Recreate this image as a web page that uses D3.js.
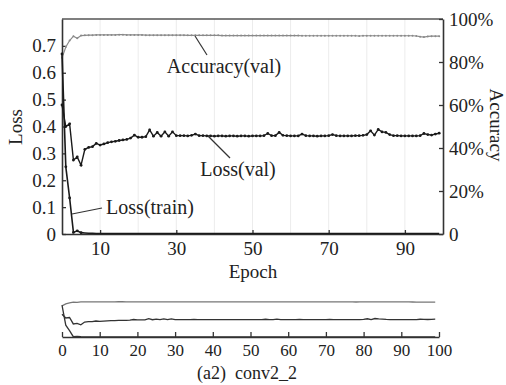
<!DOCTYPE html>
<html>
<head>
<meta charset="utf-8">
<script src="https://cdn.jsdelivr.net/npm/d3@7"></script>
<style>
  body { margin: 0; background: #fff; }
  svg text { font-family: "Liberation Serif", "DejaVu Serif", serif !important; fill: #222; }
</style>
</head>
<body>
<svg id="chart" width="506" height="385"></svg>
<script>
// epochs 0..99, values
const lossVal = [
  0.48, 0.40, 0.41, 0.275, 0.287, 0.256, 0.315, 0.322, 0.325, 0.337,
  0.331, 0.335, 0.34, 0.343, 0.345, 0.348, 0.35, 0.352, 0.357, 0.368,
  0.36, 0.36, 0.362, 0.387, 0.364, 0.378, 0.364, 0.38, 0.364, 0.38,
  0.366, 0.366, 0.366, 0.365, 0.367, 0.372, 0.366, 0.366, 0.365, 0.365,
  0.364, 0.365, 0.365, 0.364, 0.365, 0.365, 0.364, 0.365, 0.365, 0.364,
  0.365, 0.365, 0.365, 0.366, 0.374, 0.366, 0.366, 0.378, 0.367, 0.366,
  0.365, 0.365, 0.365, 0.372, 0.366, 0.365, 0.365, 0.364, 0.365, 0.365,
  0.366, 0.37, 0.366, 0.365, 0.365, 0.365, 0.365, 0.366, 0.366, 0.367,
  0.37, 0.384, 0.368, 0.389, 0.38, 0.378, 0.37, 0.366, 0.366, 0.365,
  0.365, 0.365, 0.365, 0.365, 0.366, 0.374, 0.37, 0.368, 0.372, 0.375
];
const lossTrain = [
  0.67, 0.25, 0.134, 0.006, 0.012, 0.005, 0.004, 0.003, 0.003, 0.002,
  0.002, 0.002, 0.002, 0.002, 0.002, 0.002, 0.002, 0.002, 0.002, 0.002,
  0.002, 0.002, 0.002, 0.002, 0.002, 0.002, 0.002, 0.002, 0.002, 0.002,
  0.002, 0.002, 0.002, 0.002, 0.002, 0.002, 0.002, 0.002, 0.002, 0.002,
  0.002, 0.002, 0.002, 0.002, 0.002, 0.002, 0.002, 0.002, 0.002, 0.002,
  0.002, 0.002, 0.002, 0.002, 0.002, 0.002, 0.002, 0.002, 0.002, 0.002,
  0.002, 0.002, 0.002, 0.002, 0.002, 0.002, 0.002, 0.002, 0.002, 0.002,
  0.002, 0.002, 0.002, 0.002, 0.002, 0.002, 0.002, 0.002, 0.002, 0.002,
  0.002, 0.002, 0.002, 0.002, 0.002, 0.002, 0.002, 0.002, 0.002, 0.002,
  0.002, 0.002, 0.002, 0.002, 0.002, 0.002, 0.002, 0.002, 0.002, 0.002
];
const accVal = [
  0.82, 0.87, 0.90, 0.92, 0.91, 0.923, 0.924, 0.925, 0.925, 0.926,
  0.926, 0.926, 0.926, 0.926, 0.926, 0.927, 0.927, 0.926, 0.926, 0.926,
  0.926, 0.926, 0.925, 0.925, 0.925, 0.925, 0.925, 0.925, 0.925, 0.925,
  0.925, 0.925, 0.925, 0.924, 0.924, 0.924, 0.924, 0.924, 0.924, 0.924,
  0.924, 0.924, 0.923, 0.923, 0.923, 0.923, 0.923, 0.923, 0.923, 0.923,
  0.923, 0.923, 0.923, 0.923, 0.923, 0.923, 0.923, 0.923, 0.923, 0.923,
  0.923, 0.923, 0.923, 0.922, 0.922, 0.922, 0.922, 0.922, 0.922, 0.922,
  0.922, 0.922, 0.922, 0.922, 0.922, 0.922, 0.922, 0.922, 0.921, 0.922,
  0.922, 0.922, 0.922, 0.922, 0.922, 0.922, 0.922, 0.922, 0.922, 0.922,
  0.922, 0.922, 0.922, 0.921, 0.918, 0.916, 0.919, 0.92, 0.92, 0.92
];
const epochs = d3.range(lossVal.length);

const xTicks = [10, 30, 50, 70, 90];
const gridTicks = [10, 20, 30, 40, 50, 60, 70, 80, 90];
const lossTicks = [0, 0.1, 0.2, 0.3, 0.4, 0.5, 0.6, 0.7];
const accTicks = [0, 0.2, 0.4, 0.6, 0.8, 1.0];
const miniTicks = [0, 10, 20, 30, 40, 50, 60, 70, 80, 90, 100];

const serif = "'Liberation Serif', 'DejaVu Serif', serif";

const svg = d3.select("#chart");
svg.append("rect").attr("width", 506).attr("height", 385).attr("fill", "#fff");

const plot = {left: 62, right: 443, top: 19, bottom: 234};

const x = d3.scaleLinear().domain([0, 100]).range([plot.left, plot.right]);
const yLoss = d3.scaleLinear().domain([0, 0.8]).range([plot.bottom, plot.top]);
const yAcc = d3.scaleLinear().domain([0, 1]).range([plot.bottom, plot.top]);

// faint vertical grid
svg.append("g").selectAll("line")
  .data(gridTicks)
  .enter().append("line")
  .attr("x1", (d) => x(d)).attr("x2", (d) => x(d))
  .attr("y1", plot.top).attr("y2", plot.bottom)
  .attr("stroke", "#ececec").attr("stroke-width", 1);

// frame top
svg.append("line")
  .attr("x1", plot.left).attr("x2", plot.right)
  .attr("y1", plot.top).attr("y2", plot.top)
  .attr("stroke", "#555").attr("stroke-width", 1.5);

const styleAxis = (g, size) => {
  g.attr("font-family", serif);
  g.select(".domain").attr("stroke", "#333").attr("stroke-width", 1.6);
  g.selectAll(".tick line").attr("stroke", "#333").attr("stroke-width", 1.3);
  g.selectAll(".tick text").attr("fill", "#222")
    .attr("font-family", serif)
    .style("font-size", size);
};

const xAxisG = svg.append("g")
  .attr("transform", `translate(0, ${plot.bottom})`)
  .call(d3.axisBottom(x).tickValues(xTicks).tickSize(-4).tickSizeOuter(0).tickPadding(8));
styleAxis(xAxisG, "19px");

const yLossG = svg.append("g")
  .attr("transform", `translate(${plot.left}, 0)`)
  .call(d3.axisLeft(yLoss).tickValues(lossTicks).tickSize(-4).tickSizeOuter(0).tickPadding(6)
    .tickFormat((d) => d === 0 ? "0" : d3.format(".1f")(d)));
styleAxis(yLossG, "19px");

const yAccG = svg.append("g")
  .attr("transform", `translate(${plot.right}, 0)`)
  .call(d3.axisRight(yAcc).tickValues(accTicks).tickSize(-4).tickSizeOuter(0).tickPadding(6)
    .tickFormat((d) => d === 0 ? "0" : d3.format(".0%")(d)));
styleAxis(yAccG, "19px");

// series
const lineLoss = d3.line().x((d, i) => x(epochs[i])).y((d) => yLoss(d));
const lineAcc = d3.line().x((d, i) => x(epochs[i])).y((d) => yAcc(d));

svg.append("path").datum(accVal)
  .attr("d", lineAcc).attr("fill", "none")
  .attr("stroke", "#8a8a8a").attr("stroke-width", 1.2);
svg.append("g").selectAll("circle")
  .data(accVal).enter().append("circle")
  .attr("cx", (d, i) => x(epochs[i])).attr("cy", (d) => yAcc(d))
  .attr("r", 1).attr("fill", "#8a8a8a");

svg.append("path").datum(lossVal)
  .attr("d", lineLoss).attr("fill", "none")
  .attr("stroke", "#1a1a1a").attr("stroke-width", 1.4);
svg.append("g").selectAll("circle")
  .data(lossVal).enter().append("circle")
  .attr("cx", (d, i) => x(epochs[i])).attr("cy", (d) => yLoss(d))
  .attr("r", 1.4).attr("fill", "#1a1a1a");

svg.append("path").datum(lossTrain)
  .attr("d", lineLoss).attr("fill", "none")
  .attr("stroke", "#1a1a1a").attr("stroke-width", 1.6);
svg.append("g").selectAll("circle")
  .data(lossTrain.slice(0, 6)).enter().append("circle")
  .attr("cx", (d, i) => x(epochs[i])).attr("cy", (d) => yLoss(d))
  .attr("r", 1.4).attr("fill", "#1a1a1a");

// annotations
const notes = [
  {text: "Accuracy(val)", tx: 224, ty: 73, from: [195, 36], to: [207, 55]},
  {text: "Loss(val)", tx: 238, ty: 176, from: [208, 136], to: [230, 158]},
  {text: "Loss(train)", tx: 150, ty: 214, from: [72, 214], to: [102, 208]}
];
notes.forEach((n) => {
  svg.append("line")
    .attr("x1", n.from[0]).attr("y1", n.from[1])
    .attr("x2", n.to[0]).attr("y2", n.to[1])
    .attr("stroke", "#333").attr("stroke-width", 1.2);
  svg.append("text")
    .attr("x", n.tx).attr("y", n.ty)
    .attr("text-anchor", "middle")
    .attr("font-family", serif)
    .style("font-size", "20px")
    .text(n.text);
});

// axis titles
svg.append("text")
  .attr("transform", "translate(22, 127) rotate(-90)")
  .attr("text-anchor", "middle")
  .attr("font-family", serif)
  .style("font-size", "19px")
  .text("Loss");
svg.append("text")
  .attr("transform", "translate(490, 125) rotate(90)")
  .attr("text-anchor", "middle")
  .attr("font-family", serif)
  .style("font-size", "19px")
  .text("Accuracy");
svg.append("text")
  .attr("x", 253).attr("y", 278)
  .attr("text-anchor", "middle")
  .attr("font-family", serif)
  .style("font-size", "19px")
  .text("Epoch");

// overview strip
const mini = {left: 62, right: 439, top: 299, bottom: 337};
const xm = d3.scaleLinear().domain([0, 100]).range([mini.left, mini.right]);
const ymLoss = d3.scaleLinear().domain([0, 0.8]).range([mini.bottom, mini.top]);
const ymAcc = d3.scaleLinear().domain([0, 1]).range([mini.bottom, mini.top]);

const miniAxisG = svg.append("g")
  .attr("transform", `translate(0, ${mini.bottom})`)
  .call(d3.axisBottom(xm).tickValues(miniTicks).tickSize(-5).tickSizeOuter(0).tickPadding(7));
styleAxis(miniAxisG, "17px");
miniAxisG.select(".domain").attr("stroke-width", 1.5);

const miniLoss = d3.line().x((d, i) => xm(epochs[i])).y((d) => ymLoss(d));
const miniAcc = d3.line().x((d, i) => xm(epochs[i])).y((d) => ymAcc(d));

svg.append("path").datum(accVal).attr("d", miniAcc)
  .attr("fill", "none").attr("stroke", "#777").attr("stroke-width", 1.3);
svg.append("path").datum(lossVal).attr("d", miniLoss)
  .attr("fill", "none").attr("stroke", "#333").attr("stroke-width", 1.3);
svg.append("path").datum(lossTrain).attr("d", miniLoss)
  .attr("fill", "none").attr("stroke", "#333").attr("stroke-width", 1.3);

svg.append("text")
  .attr("x", 247).attr("y", 379)
  .attr("text-anchor", "middle")
  .attr("font-family", serif)
  .style("font-size", "18px")
  .style("white-space", "pre")
  .text("(a2)  conv2_2");
</script>
</body>
</html>
